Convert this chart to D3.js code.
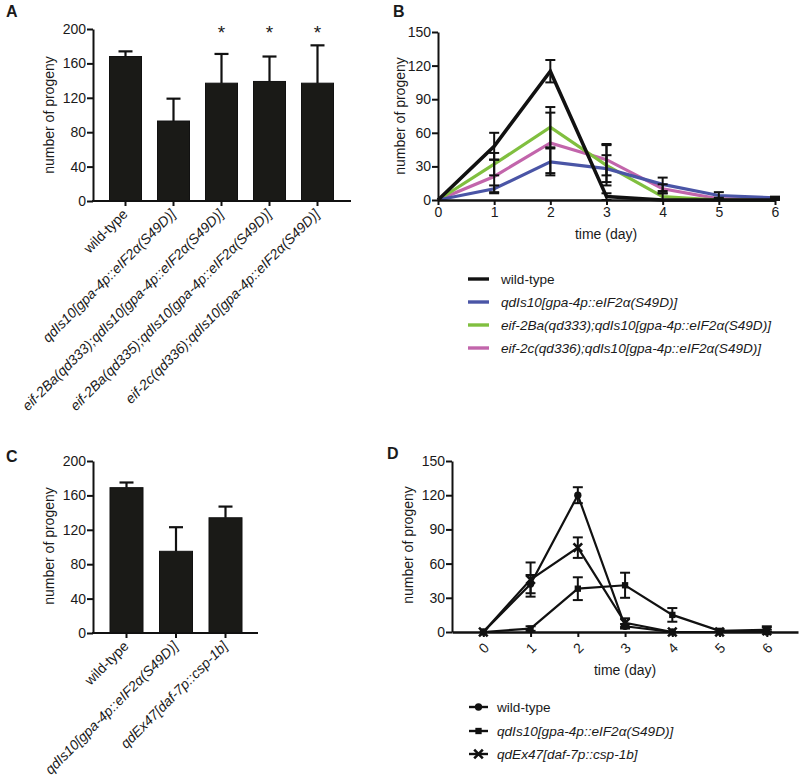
<!DOCTYPE html>
<html><head><meta charset="utf-8">
<script src="https://cdn.jsdelivr.net/npm/d3@7"></script>
<style>
body{margin:0;background:#fff;}
svg text{font-family:Arial,"Liberation Sans",sans-serif;fill:#1a1a1a;}
</style></head>
<body><svg id="c" width="799" height="782"></svg>
<script>
// ---------- DATA ----------
const catsA = ["wild-type","qdIs10[gpa-4p::eIF2α(S49D)]","eif-2Ba(qd333);qdIs10[gpa-4p::eIF2α(S49D)]","eif-2Ba(qd335);qdIs10[gpa-4p::eIF2α(S49D)]","eif-2c(qd336);qdIs10[gpa-4p::eIF2α(S49D)]"];
const meanA = [168, 93, 137, 139, 137];
const errA  = [6, 26, 34, 29, 44];
const starA = [false, false, true, true, true];

const days = [0,1,2,3,4,5,6];
const seriesB = ["wild-type","qdIs10[gpa-4p::eIF2α(S49D)]","eif-2Ba(qd333);qdIs10[gpa-4p::eIF2α(S49D)]","eif-2c(qd336);qdIs10[gpa-4p::eIF2α(S49D)]"];
const colorsB = ["#111111","#4a55a6","#80bf3f","#c265ab"];
const wtB   = [0, 48, 115, 3, 0, 0, 0];
const qdB   = [0, 10, 34, 28, 14, 4, 2];
const g333B = [0, 32, 65, 31, 3, 0, 0];
const c336B = [0, 21, 51, 36, 10, 1, 1];
const wtBerr   = [0, 12, 10, 3, 0, 0, 0];
const qdBerr   = [0, 3, 12, 12, 6, 3, 1];
const g333Berr = [0, 10, 18, 18, 3, 0, 0];
const c336Berr = [0, 15, 27, 14, 4, 1, 1];

const catsC = ["wild-type","qdIs10[gpa-4p::eIF2α(S49D)]","qdEx47[daf-7p::csp-1b]"];
const meanC = [169, 95, 134];
const errC  = [6, 28, 13];

const seriesD = ["wild-type","qdIs10[gpa-4p::eIF2α(S49D)]","qdEx47[daf-7p::csp-1b]"];
const wtD   = [0, 42, 120, 5, 0, 0, 0];
const qdD   = [0, 3, 38, 41, 15, 1, 2];
const cspD  = [0, 46, 74, 8, 0, 0, 1];
const wtDerr  = [0, 8, 7, 2, 0, 0, 0];
const qdDerr  = [0, 2, 10, 11, 6, 1, 3];
const cspDerr = [0, 15, 9, 4, 0, 0, 1];

const yTicksBar = [0,40,80,120,160,200];
const yTicksLine = [0,30,60,90,120,150];

// ---------- HELPERS ----------
const svg = d3.select("#c");
const INK = "#111";
const FS = "14px";
const FSL = "13.6px";

function panelLetter(t,x,y){
  svg.append("text").attr("x",x).attr("y",y).text(t)
    .style("font-weight","bold").style("font-size","16px");
}
function yLabel(x,y){
  svg.append("text").attr("transform",`translate(${x},${y}) rotate(-90)`)
    .attr("text-anchor","middle").style("font-size",FS).text("number of progeny");
}
function yAxis(g, y, ticks, x){
  const ax = g.append("g").attr("transform",`translate(${x},0)`)
    .call(d3.axisLeft(y).tickValues(ticks).tickFormat(d3.format("d")).tickSize(6).tickPadding(1).tickSizeOuter(0));
  ax.select(".domain").attr("stroke",INK).attr("stroke-width",2);
  ax.selectAll(".tick line").attr("stroke",INK).attr("stroke-width",2);
  ax.selectAll(".tick text").style("font-size",FS).style("font-family","Arial,'Liberation Sans',sans-serif").attr("fill","#1a1a1a");
  return ax;
}
function errBar(g, x, y0, y1, cw, sw){
  g.append("line").attr("x1",x).attr("x2",x).attr("y1",y0).attr("y2",y1).attr("stroke",INK).attr("stroke-width",sw);
  g.append("line").attr("x1",x-cw/2).attr("x2",x+cw/2).attr("y1",y1).attr("y2",y1).attr("stroke",INK).attr("stroke-width",sw);
}

// ---------- BAR PANEL ----------
function barPanel(cats, mean, err, stars, opt){
  const g = svg.append("g");
  const x = d3.scalePoint().domain(cats).range([opt.c0, opt.c1]);
  const y = d3.scaleLinear().domain([0,200]).range([opt.y0, opt.y1]);
  cats.forEach((c,i)=>{
    errBar(g, x(c), y(mean[i]), y(mean[i]+err[i]), 14, 2.2);
  });
  g.selectAll("rect.bar").data(cats).enter().append("rect")
    .attr("x",d=>x(d)-opt.bw/2).attr("width",opt.bw)
    .attr("y",(d,i)=>y(mean[i])).attr("height",(d,i)=>y(0)-y(mean[i]))
    .attr("fill","#1a1a17").attr("stroke","#111").attr("stroke-width",1);
  yAxis(g, y, yTicksBar, opt.ax);
  g.append("line").attr("x1",opt.ax-1).attr("x2",opt.xEnd).attr("y1",y(0)).attr("y2",y(0)).attr("stroke",INK).attr("stroke-width",2);
  cats.forEach(c=>{
    g.append("line").attr("x1",x(c)).attr("x2",x(c)).attr("y1",y(0)).attr("y2",y(0)+5).attr("stroke",INK).attr("stroke-width",2);
  });
  cats.forEach((c,i)=>{
    g.append("text").attr("transform",`translate(${x(c)+3},${y(0)+14}) rotate(-45)`)
      .attr("text-anchor","end").style("font-size",FS)
      .style("font-style", i===0?"normal":"italic").text(c);
  });
  if(stars){
    cats.forEach((c,i)=>{ if(stars[i]) g.append("text").attr("x",x(c)).attr("y",opt.y1+10)
      .attr("text-anchor","middle").style("font-size","19px").text("*"); });
  }
}

// ---------- PANEL A ----------
panelLetter("A",6,17);
yLabel(54,115);
barPanel(catsA, meanA, errA, starA, {c0:125.5,c1:317.5,bw:32,y0:201,y1:29,ax:93,xEnd:351});

// ---------- PANEL C ----------
panelLetter("C",6,462);
yLabel(54,546);
barPanel(catsC, meanC, errC, null, {c0:126.5,c1:225.5,bw:33,y0:633,y1:461,ax:93,xEnd:258});

// ---------- PANEL B ----------
(function(){
  const g = svg.append("g");
  panelLetter("B",393,17);
  yLabel(405,116);
  const x = d3.scaleLinear().domain([0,6]).range([438,775]);
  const y = d3.scaleLinear().domain([0,150]).range([200,32]);
  const vals = [wtB,qdB,g333B,c336B], errs=[wtBerr,qdBerr,g333Berr,c336Berr];
  const line = d3.line().x((d,i)=>x(days[i])).y(d=>y(d));
  [3,2,1,0].forEach(k=>{
    g.append("path").datum(vals[k]).attr("d",line).attr("fill","none")
      .attr("stroke",colorsB[k]).attr("stroke-width",k===0?3.6:3.2).attr("stroke-linejoin","miter");
  });
  vals.forEach((v,k)=>{
    v.forEach((m,i)=>{
      const e = errs[k][i]; if(!e) return;
      const xx = x(days[i]);
      g.append("line").attr("x1",xx).attr("x2",xx).attr("y1",y(m-e)).attr("y2",y(m+e)).attr("stroke",INK).attr("stroke-width",2);
      [m-e,m+e].forEach(vv=>g.append("line").attr("x1",xx-5).attr("x2",xx+5).attr("y1",y(vv)).attr("y2",y(vv)).attr("stroke",INK).attr("stroke-width",2));
    });
  });
  yAxis(g, y, yTicksLine, 438);
  const ax = g.append("g").attr("transform","translate(0,200)")
    .call(d3.axisBottom(x).tickValues(days).tickFormat(d3.format("d")).tickSize(5).tickPadding(2).tickSizeOuter(0));
  ax.select(".domain").attr("stroke",INK).attr("stroke-width",2.5);
  ax.selectAll(".tick line").attr("stroke",INK).attr("stroke-width",2);
  ax.selectAll(".tick text").style("font-size",FS).style("font-family","Arial,'Liberation Sans',sans-serif").attr("fill","#1a1a1a");
  g.append("text").attr("x",606).attr("y",239).attr("text-anchor","middle").style("font-size",FS).text("time (day)");
  const ly=[279,302,325,348];
  seriesB.forEach((s,k)=>{
    g.append("line").attr("x1",468).attr("x2",489).attr("y1",ly[k]).attr("y2",ly[k]).attr("stroke",colorsB[k]).attr("stroke-width",3.4);
    g.append("text").attr("x",501).attr("y",ly[k]+5).style("font-size",FSL)
      .style("font-style",k===0?"normal":"italic").text(s);
  });
})();

// ---------- PANEL D ----------
(function(){
  const g = svg.append("g");
  panelLetter("D",387,459);
  yLabel(413,545);
  const x = d3.scaleLinear().domain([-0.663,6.66]).range([452,798]);
  const y = d3.scaleLinear().domain([0,150]).range([632,461]);
  const vals=[wtD,qdD,cspD], errs=[wtDerr,qdDerr,cspDerr];
  const syms=[d3.symbolCircle,d3.symbolSquare,d3.symbolTimes];
  const line = d3.line().x((d,i)=>x(days[i])).y(d=>y(d));
  vals.forEach(v=>{
    g.append("path").datum(v).attr("d",line).attr("fill","none").attr("stroke",INK).attr("stroke-width",2.2);
  });
  vals.forEach((v,k)=>{
    v.forEach((m,i)=>{
      const e = errs[k][i]; if(!e) return;
      const xx = x(days[i]);
      g.append("line").attr("x1",xx).attr("x2",xx).attr("y1",y(Math.max(0,m-e))).attr("y2",y(m+e)).attr("stroke",INK).attr("stroke-width",2);
      [Math.max(0,m-e),m+e].forEach(vv=>g.append("line").attr("x1",xx-5).attr("x2",xx+5).attr("y1",y(vv)).attr("y2",y(vv)).attr("stroke",INK).attr("stroke-width",2));
    });
  });
  const symPath=(k)=> k===2 ? d3.symbol().type(syms[k]).size(50)() : d3.symbol().type(syms[k]).size(k===0?42:40)();
  vals.forEach((v,k)=>{
    v.forEach((m,i)=>{
      const p = g.append("path").attr("d",symPath(k)).attr("transform",`translate(${x(days[i])},${y(m)})`);
      if(k===2) p.attr("fill","none").attr("stroke",INK).attr("stroke-width",2.6);
      else p.attr("fill",INK);
    });
  });
  yAxis(g, y, yTicksLine, 452);
  const ax = g.append("g").attr("transform","translate(0,632)")
    .call(d3.axisBottom(x).tickValues(days).tickFormat(d3.format("d")).tickSize(5).tickPadding(2).tickSizeOuter(0));
  ax.select(".domain").attr("stroke",INK).attr("stroke-width",2.5);
  ax.selectAll(".tick line").attr("stroke",INK).attr("stroke-width",2);
  ax.selectAll(".tick text").style("font-size",FS).style("font-family","Arial,'Liberation Sans',sans-serif").attr("fill","#1a1a1a")
    .attr("y",0).attr("dy",0).attr("transform","translate(0,16) rotate(-45)").attr("text-anchor","middle").attr("dominant-baseline","central");
  g.append("text").attr("x",625).attr("y",675).attr("text-anchor","middle").style("font-size",FS).text("time (day)");
  const ly=[707,731,754];
  seriesD.forEach((s,k)=>{
    g.append("line").attr("x1",469).attr("x2",488).attr("y1",ly[k]).attr("y2",ly[k]).attr("stroke",INK).attr("stroke-width",2.4);
    const p = g.append("path").attr("d",symPath(k)).attr("transform",`translate(478.5,${ly[k]})`);
    if(k===2) p.attr("fill","none").attr("stroke",INK).attr("stroke-width",2.6); else p.attr("fill",INK);
    g.append("text").attr("x",497).attr("y",ly[k]+5).style("font-size",FSL)
      .style("font-style",k===0?"normal":"italic").text(s);
  });
})();
</script></body></html>
